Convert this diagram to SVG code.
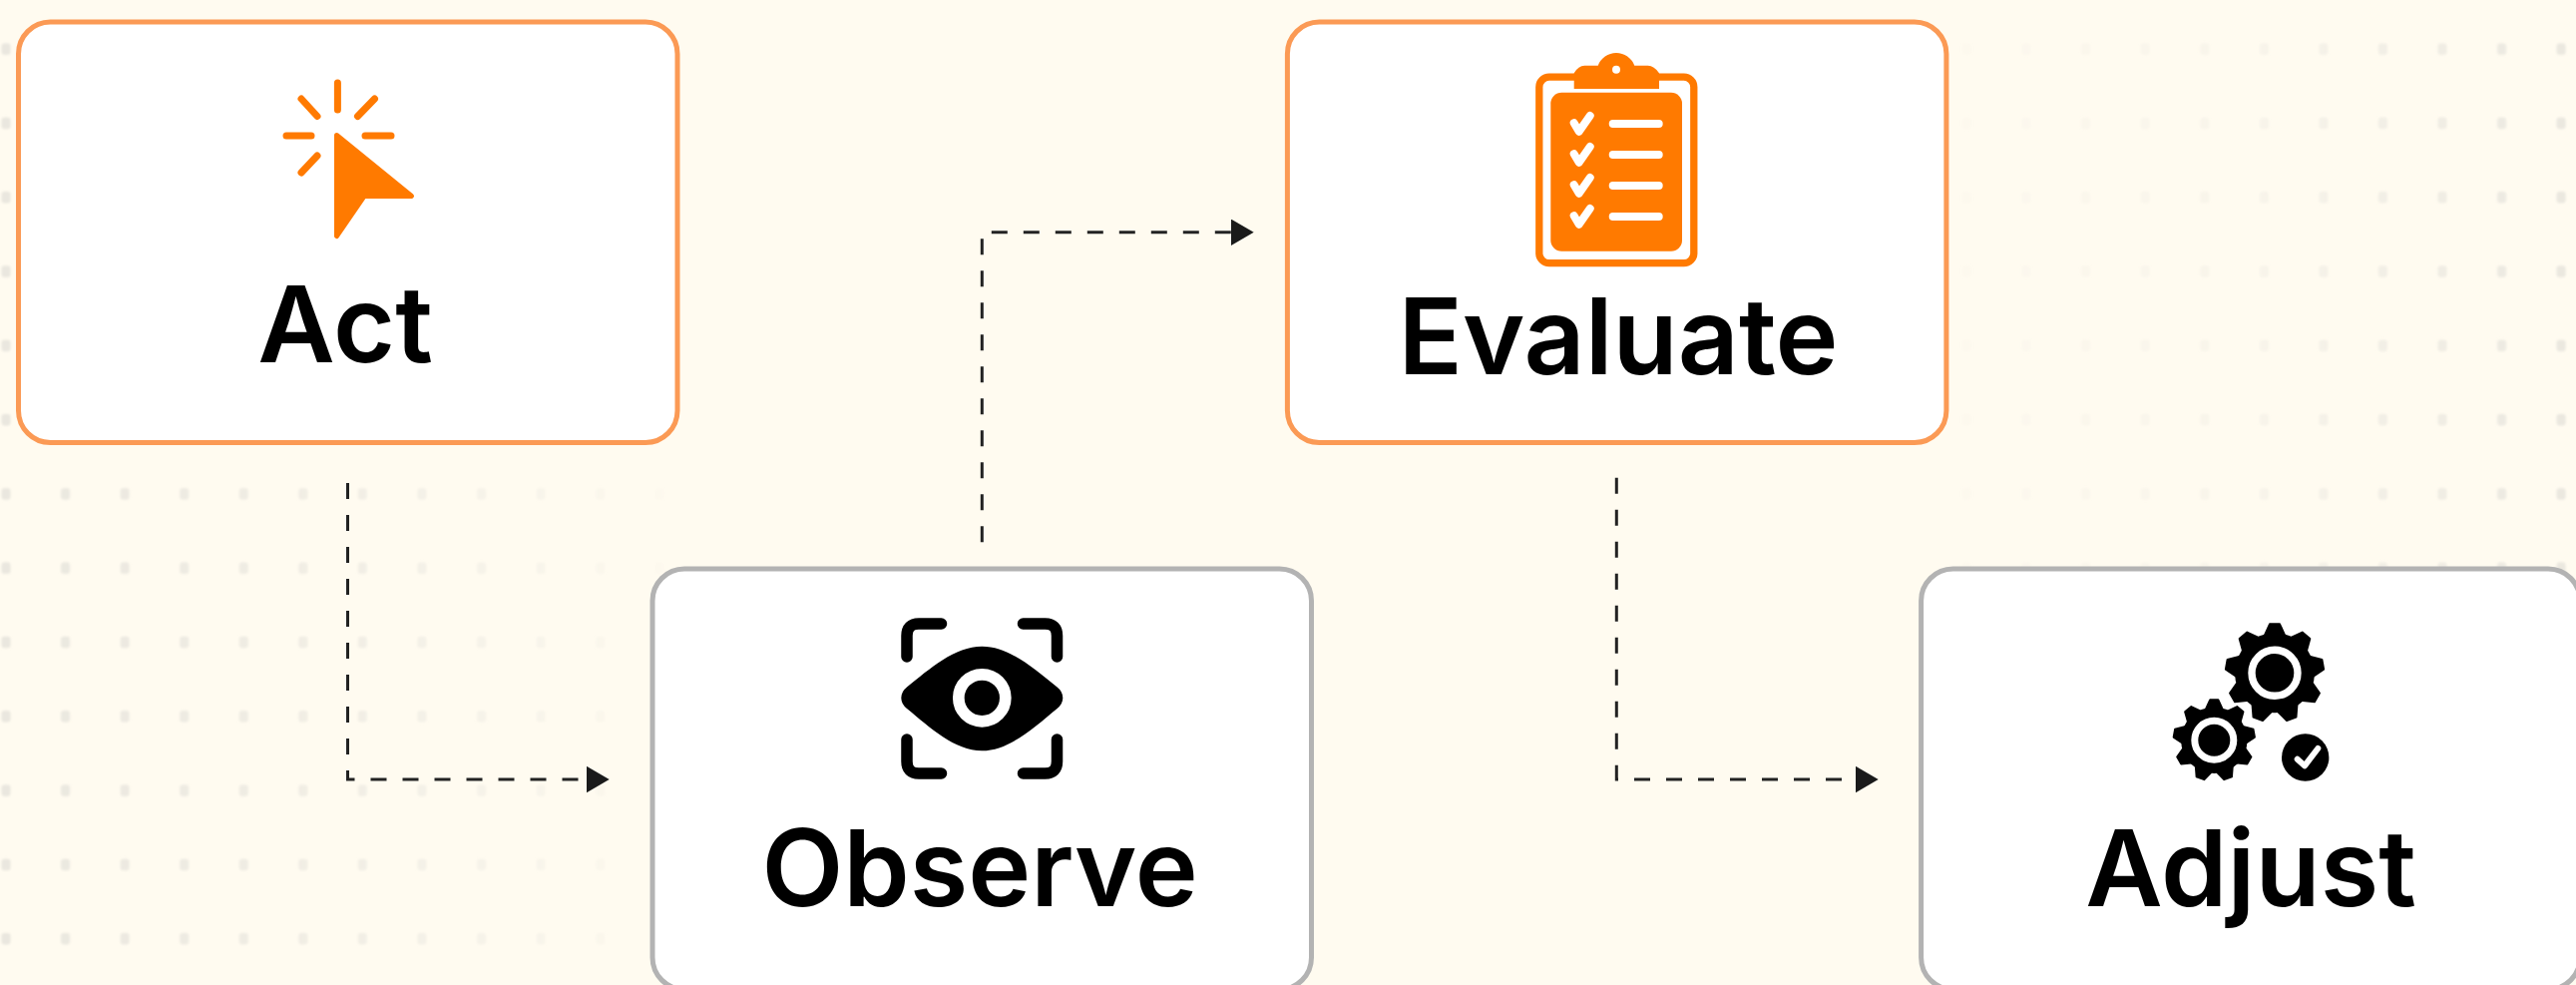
<svg xmlns="http://www.w3.org/2000/svg" xmlns:xlink="http://www.w3.org/1999/xlink" width="2582" height="987" viewBox="0 0 2582 987">
<style>
.box{fill:#fff;stroke-width:5}
.hot{stroke:#FB9A55}
.cold{stroke:#B3B3B3}
.label{font-family:Inter,"Liberation Sans",sans-serif;font-weight:600;font-size:106.5px;text-anchor:middle;fill:#000}
.conn{fill:none;stroke:#222;stroke-width:3;stroke-dasharray:16 16;marker-end:url(#arrow)}
.or{fill:#FF7A00}
.ray{fill:none;stroke:#FF7A00;stroke-width:7;stroke-linecap:round}
.wl{fill:none;stroke:#fff;stroke-width:8;stroke-linecap:round}
.wc{fill:none;stroke:#fff;stroke-width:8;stroke-linecap:round;stroke-linejoin:round}
.bk{fill:none;stroke:#000;stroke-width:11.5;stroke-linecap:round;stroke-linejoin:round}
</style>
<defs>
<marker id="arrow" markerUnits="userSpaceOnUse" markerWidth="23" markerHeight="27" refX="0" refY="13.2" orient="auto"><path d="M0 0L22.7 13.2L0 26.4Z" fill="#1A1A1A"/></marker>
<pattern id="dots" patternUnits="userSpaceOnUse" x="-23.78" y="11.85" width="59.56" height="74.3"><rect x="25.3" y="31.5" width="9" height="11.5" rx="3" fill="#EAE7DF"/></pattern>
<filter id="soft" x="0" y="0" width="1" height="1"><feGaussianBlur stdDeviation="1.2"/></filter>
<linearGradient id="fadeL" gradientUnits="userSpaceOnUse" x1="0" y1="0" x2="680" y2="0"><stop offset="0" stop-color="#fff"/><stop offset="0.5" stop-color="#fff" stop-opacity="0.65"/><stop offset="1" stop-color="#fff" stop-opacity="0.08"/></linearGradient>
<linearGradient id="fadeR" gradientUnits="userSpaceOnUse" x1="1950" y1="0" x2="2582" y2="0"><stop offset="0" stop-color="#fff" stop-opacity="0.1"/><stop offset="0.5" stop-color="#fff" stop-opacity="0.35"/><stop offset="1" stop-color="#fff"/></linearGradient>
<mask id="maskL" maskUnits="userSpaceOnUse" x="0" y="0" width="2582" height="987"><rect width="2582" height="987" fill="url(#fadeL)"/></mask>
<mask id="maskR" maskUnits="userSpaceOnUse" x="0" y="0" width="2582" height="987"><rect width="2582" height="987" fill="url(#fadeR)"/></mask>
<g id="gear">
<circle r="40"/>
<g id="teeth" stroke="#000" stroke-width="2" stroke-linejoin="round">
<polygon points="-10,-38 -5,-49 5,-49 10,-38"/>
<polygon points="-10,-38 -5,-49 5,-49 10,-38" transform="rotate(40)"/>
<polygon points="-10,-38 -5,-49 5,-49 10,-38" transform="rotate(80)"/>
<polygon points="-10,-38 -5,-49 5,-49 10,-38" transform="rotate(120)"/>
<polygon points="-10,-38 -5,-49 5,-49 10,-38" transform="rotate(160)"/>
<polygon points="-10,-38 -5,-49 5,-49 10,-38" transform="rotate(200)"/>
<polygon points="-10,-38 -5,-49 5,-49 10,-38" transform="rotate(240)"/>
<polygon points="-10,-38 -5,-49 5,-49 10,-38" transform="rotate(280)"/>
<polygon points="-10,-38 -5,-49 5,-49 10,-38" transform="rotate(320)"/>
</g>
</g>
</defs>
<rect width="2582" height="987" fill="#FFFBF0"/>
<g id="background-dots" filter="url(#soft)">
<rect x="0" y="30" width="680" height="930" fill="url(#dots)" mask="url(#maskL)"/>
<rect x="1950" y="30" width="632" height="560" fill="url(#dots)" mask="url(#maskR)"/>
</g>
<g id="connectors">
<path class="conn" d="M348.5 484V781H588"/>
<path class="conn" d="M984.3 543.3V232.8H1234"/>
<path class="conn" d="M1620.3 478.7V781H1860"/>
</g>
<g id="node-act">
<rect class="box hot" x="18.5" y="22" width="660.5" height="421.5" rx="32"/>
<path class="or" stroke="#FF7A00" stroke-width="5" stroke-linejoin="round" d="M337.5 135.5L412.5 196.5H365L337.5 236.5Z"/>
<path class="ray" d="M338.4 83V110M302 99L318 116.5M375.5 99L358.5 116.5M287 136H312M366 136H392M318 156L302 173"/>
<text class="label" x="346" y="363">Act</text>
</g>
<g id="node-observe">
<rect class="box cold" x="654" y="570" width="660.5" height="421.5" rx="32"/>
<path class="bk" d="M909 658V637Q909 625 921 625H943.5M1025.5 625H1047.5Q1059.5 625 1059.5 637V658M909 741V763Q909 775 921 775H943.5M1025.5 775H1047.5Q1059.5 775 1059.5 763V741"/>
<path d="M903.3 699.3Q903.3 693 909 688.5C932 670 957 647.7 984.3 647.7C1011.5 647.7 1036.5 670 1059.6 688.5Q1065.3 693 1065.3 699.3Q1065.3 705.5 1059.6 710C1036.5 729 1011.5 752.3 984.3 752.3C957 752.3 932 729 909 710Q903.3 705.5 903.3 699.3Z"/>
<circle cx="984.3" cy="699.3" r="23.5" fill="#000" stroke="#fff" stroke-width="11.7"/>
<text class="label" x="982" y="908">Observe</text>
</g>
<g id="node-evaluate">
<rect class="box hot" x="1290.4" y="22" width="660.5" height="421.5" rx="32"/>
<rect x="1542.8" y="77.2" width="155" height="186.5" rx="10" fill="none" stroke="#FF7A00" stroke-width="7.3"/>
<path class="or" d="M1577.7 89V73.3Q1582 65.7 1588.3 65.7H1601.7A19.5 19.5 0 0 1 1638.3 65.7H1651.7Q1658 65.7 1663 73.3V89Z"/>
<circle cx="1620" cy="69.7" r="4" fill="#fff"/>
<rect class="or" x="1554.3" y="92.7" width="131.7" height="159" rx="11"/>
<path class="wc" d="M1577.7 123.3L1582.7 131.7L1593.7 116M1577.7 154.3L1582.7 162.7L1593.7 147M1577.7 185.3L1582.7 193.7L1593.7 178M1577.7 216.3L1582.7 224.7L1593.7 209"/>
<path class="wl" d="M1616.7 124H1662.7M1616.7 155H1662.7M1616.7 186H1662.7M1616.7 217H1662.7"/>
<text class="label" x="1622" y="375.3">Evaluate</text>
</g>
<g id="node-adjust">
<rect class="box cold" x="1925.6" y="570" width="660.5" height="421.5" rx="32"/>
<use xlink:href="#gear" href="#gear" transform="translate(2280 674.3)"/>
<circle cx="2280" cy="674.3" r="23" fill="#000" stroke="#fff" stroke-width="7.4"/>
<use xlink:href="#gear" href="#gear" transform="translate(2219.3 741.7) scale(0.83)"/>
<circle cx="2219.3" cy="741.7" r="19.5" fill="#000" stroke="#fff" stroke-width="7"/>
<circle cx="2310.7" cy="759" r="23.7"/>
<path d="M2302.7 760.7L2310 767.3L2323.3 750" fill="none" stroke="#fff" stroke-width="6" stroke-linecap="round" stroke-linejoin="round"/>
<text class="label" x="2256" y="908">Adjust</text>
</g>
</svg>
